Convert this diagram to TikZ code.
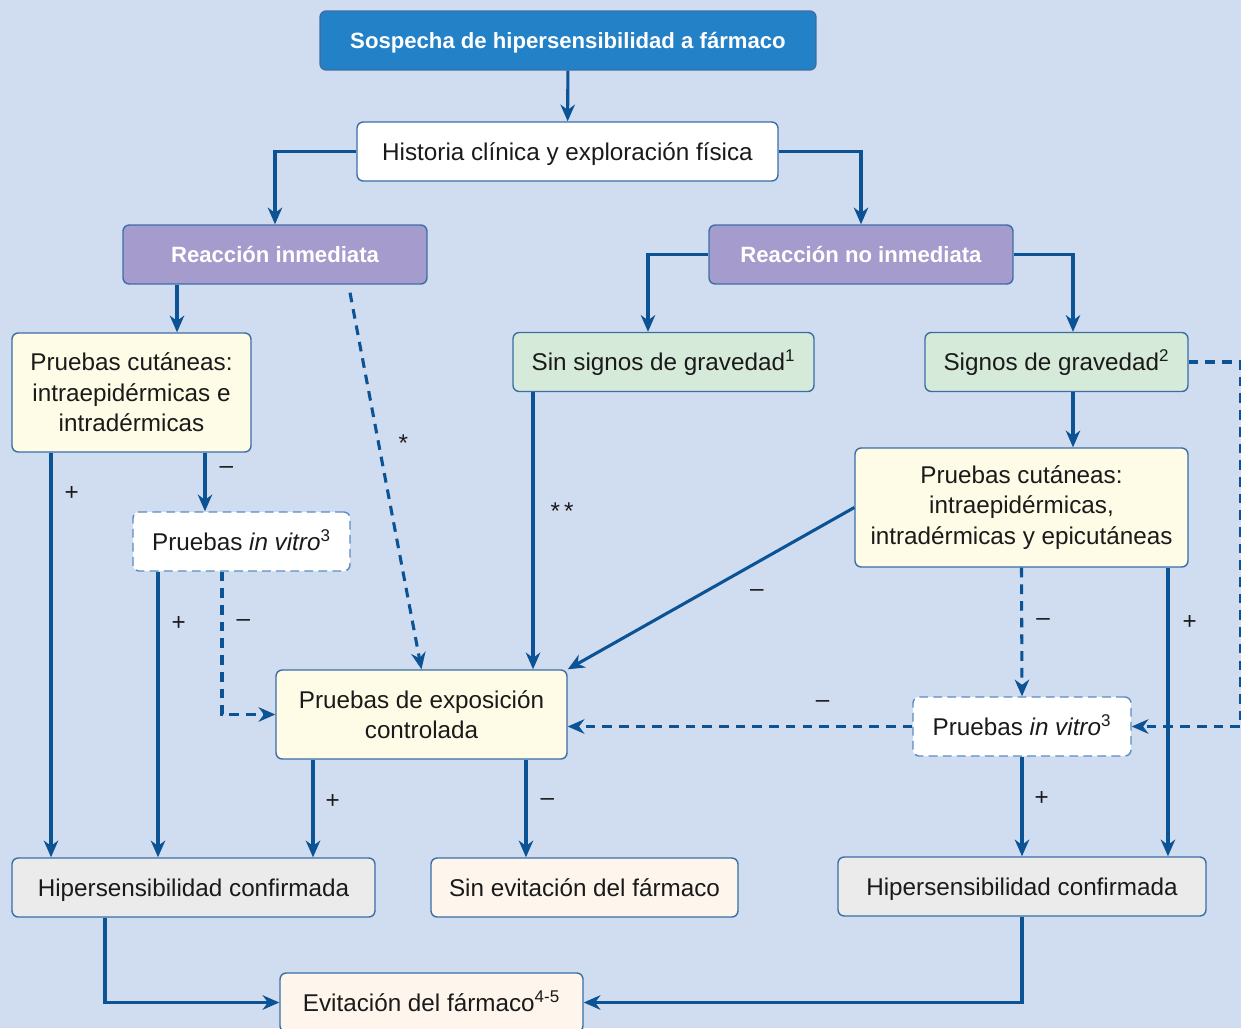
\documentclass[tikz,border=0pt]{standalone}
\usepackage{fontspec}
\setmainfont{Liberation Sans}
\usetikzlibrary{arrows.meta}

\definecolor{fondo}{HTML}{D0DCF0}
\definecolor{azul}{HTML}{2281C7}
\definecolor{lila}{HTML}{A59CCD}
\definecolor{verde}{HTML}{D5EAD8}
\definecolor{amarillo}{HTML}{FEFCE6}
\definecolor{gris}{HTML}{EBEBEB}
\definecolor{crema}{HTML}{FEF5EC}
\definecolor{borde}{HTML}{3A6EA5}
\definecolor{bordeclaro}{HTML}{5C8CC2}
\definecolor{linea}{HTML}{0B5394}
\definecolor{texto}{HTML}{1A1A1A}

\tikzset{
  caja/.style={draw=borde, line width=0.8pt, rounded corners=3.5pt, align=center,
    text=texto, inner sep=0pt, minimum height=1.18cm, text height=9.9pt, text depth=0pt,
    font=\fontsize{13.8}{17.3}\selectfont},
  varias/.style={text height={}, text depth={}},
  titulo/.style={caja, fill=azul, text=white, text height=9pt, font=\bfseries\fontsize{12.6}{15}\selectfont},
  reaccion/.style={titulo, fill=lila},
  vitro/.style={caja, fill=white, draw=bordeclaro, dash pattern=on 5pt off 3pt},
  flecha/.style={->, draw=linea, line width=1.75pt},
  discont/.style={flecha, dash pattern=on 5.5pt off 4pt},
  lbl/.style={inner sep=0pt, text=texto, font=\fontsize{13.8}{17.3}\selectfont}
}

\begin{document}
\begin{tikzpicture}[x=0.02cm, y=-0.02cm, >={Stealth[length=9.5pt,width=8.2pt,inset=3pt]}]
  \fill[fondo] (0,0) rectangle (1241,1028);
  \useasboundingbox (0,0) rectangle (1241,1028);

  % cajas
  \node[titulo, minimum width=9.92cm] (susp) at (568,40.5) {Sospecha de hipersensibilidad a fármaco};
  \node[caja, fill=white, minimum width=8.42cm] (hist) at (567.5,151.5) {Historia clínica y exploración física};
  \node[reaccion, minimum width=6.08cm] (reacI) at (275,254.5) {Reacción inmediata};
  \node[reaccion, minimum width=6.08cm] (reacN) at (861,254.5) {Reacción no inmediata};

  \node[caja, varias, fill=amarillo, minimum width=4.78cm, minimum height=2.38cm] (cutI) at (131.5,392.5)
    {Pruebas cutáneas:\\ intraepidérmicas e\\ intradérmicas};
  \node[caja, fill=verde, minimum width=6.02cm] (sinS) at (663.5,362) {Sin signos de gravedad\textsuperscript{1}};
  \node[caja, fill=verde, minimum width=5.26cm] (signos) at (1056.5,362) {Signos de gravedad\textsuperscript{2}};
  \node[vitro, minimum width=4.34cm] (vitroL) at (241.5,541.5) {Pruebas \textit{in vitro}\textsuperscript{3}};
  \node[caja, varias, fill=amarillo, minimum width=6.66cm, minimum height=2.38cm] (cutN) at (1021.5,507.5)
    {Pruebas cutáneas:\\ intraepidérmicas,\\ intradérmicas y epicutáneas};
  \node[caja, varias, fill=amarillo, minimum width=5.82cm, minimum height=1.78cm] (expo) at (421.5,714.5)
    {Pruebas de exposición\\ controlada};
  \node[vitro, minimum width=4.36cm] (vitroR) at (1022,726.5) {Pruebas \textit{in vitro}\textsuperscript{3}};

  \node[caja, fill=gris, minimum width=7.26cm] (hipL) at (193.5,887.5) {Hipersensibilidad confirmada};
  \node[caja, fill=crema, minimum width=6.14cm] (sinE) at (584.5,887.5) {Sin evitación del fármaco};
  \node[caja, fill=gris, minimum width=7.36cm] (hipR) at (1022,886.5) {Hipersensibilidad confirmada};
  \node[caja, fill=crema, minimum width=6.06cm] (evit) at (431.5,1002.5) {Evitación del fármaco\textsuperscript{4-5}};

  % conexiones
  \draw[flecha] (susp) -- (hist);
  \draw[flecha] (hist.west) -| (reacI);
  \draw[flecha] (hist.east) -| (reacN);

  \draw[flecha] ([xshift=-1.96cm]reacI.south) -- ([xshift=-1.96cm]reacI.south |- cutI.north);
  \draw[discont] ([xshift=1.5cm,yshift=-0.16cm]reacI.south) -- (expo.north)
    node[lbl, pos=0.4, right=0.37cm] {*};

  \draw[flecha] (reacN.west) -| ([xshift=-0.31cm]sinS.north);
  \draw[flecha] (reacN.east) -| ([xshift=0.33cm]signos.north);
  \draw[flecha] ([xshift=0.33cm]signos.south) -- ([xshift=0.33cm]signos.south |- cutN.north);
  \draw[discont] (signos.east) -- ++(52,0) |- (vitroR.east);

  \draw[flecha] ([xshift=-2.61cm]sinS.south) -- ([xshift=-2.61cm]sinS.south |- expo.north)
    node[lbl, pos=0.43, right=0.32cm] {*\,*};
  \draw[flecha] (cutN.west) -- (expo.north east)
    node[lbl, pos=0.34, below=0.5cm] {–};
  \draw[discont] (cutN.south) -- (vitroR.north)
    node[lbl, pos=0.42, right=0.26cm] {–};
  \draw[flecha] ([xshift=2.93cm]cutN.south) -- ([xshift=2.93cm]cutN.south |- hipR.north)
    node[lbl, pos=0.19, right=0.26cm] {+};
  \draw[discont] (vitroR.west) -- (vitroR.west -| expo.east)
    node[lbl, pos=0.26, above=0.35cm] {–};
  \draw[flecha] (vitroR.south) -- (hipR.north)
    node[lbl, pos=0.42, right=0.22cm] {+};

  \draw[flecha] ([xshift=1.47cm]cutI.south) -- ([xshift=1.47cm]cutI.south |- vitroL.north)
    node[lbl, pos=0.3, right=0.26cm] {–};
  \draw[flecha] ([xshift=-1.61cm]cutI.south) -- ([xshift=-1.61cm]cutI.south |- hipL.north)
    node[lbl, pos=0.1, right=0.24cm] {+};
  \draw[flecha] ([xshift=-1.67cm]vitroL.south) -- ([xshift=-1.67cm]vitroL.south |- hipL.north)
    node[lbl, pos=0.18, right=0.24cm] {+};
  \draw[discont] ([xshift=-0.39cm]vitroL.south) |- (expo.west)
    node[lbl, pos=0.18, right=0.26cm] {–};

  \draw[flecha] ([xshift=-2.17cm]expo.south) -- ([xshift=-2.17cm]expo.south |- hipL.north)
    node[lbl, pos=0.43, right=0.22cm] {+};
  \draw[flecha] ([xshift=2.09cm]expo.south) -- ([xshift=2.09cm]expo.south |- sinE.north)
    node[lbl, pos=0.43, right=0.26cm] {–};

  \draw[flecha] ([xshift=-1.77cm]hipL.south) |- (evit.west);
  \draw[flecha] (hipR.south) |- (evit.east);
\end{tikzpicture}
\end{document}
